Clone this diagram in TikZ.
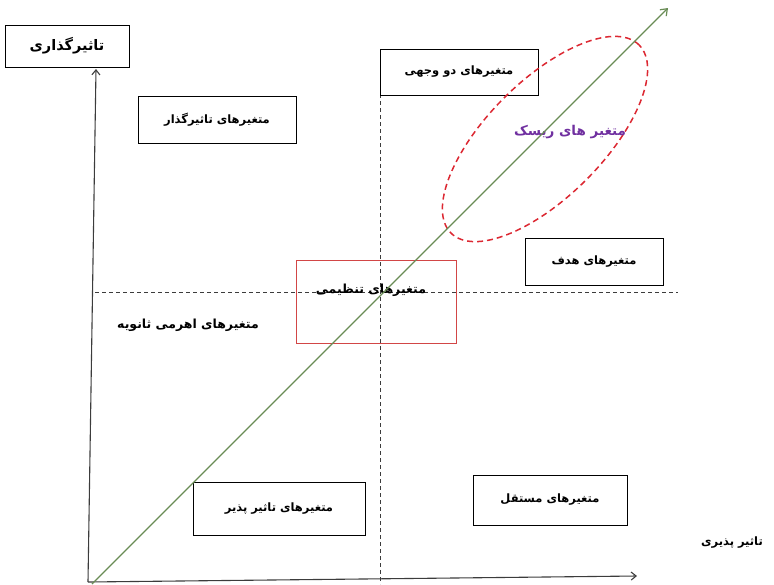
\documentclass[tikz,border=0pt]{standalone}
\usepackage{fontspec}
\newfontfamily\arabicfont[Script=Arabic]{DejaVu Sans}
\TeXXeTstate=1
\usetikzlibrary{arrows.meta,positioning,shapes,calc}
\definecolor{axisgray}{RGB}{60,60,60}
\definecolor{diaggreen}{RGB}{105,140,85}
\definecolor{riskred}{RGB}{220,40,50}
\definecolor{riskpurple}{RGB}{112,48,160}
\definecolor{boxred}{RGB}{210,70,70}
\newcommand{\fa}[1]{{\arabicfont\bfseries\beginR #1\endR}}

\begin{document}
\begin{tikzpicture}[x=1pt, y=-1pt,
        box/.style={rectangle, draw=black, line width=1pt, inner sep=0pt, font=\fontsize{11.5}{13}\selectfont},
        plain/.style={inner sep=0pt, font=\fontsize{11.5}{13}\selectfont},
        axis/.style={-{Straight Barb[length=5pt,width=8pt]}, line width=1.1pt, axisgray},
        guide/.style={dash pattern=on 4pt off 3pt, line width=1pt, axisgray},
        diag/.style={-{Straight Barb[length=6pt,width=9pt]}, line width=1.2pt, diaggreen},
        riskzone/.style={ellipse, draw=riskred, dash pattern=on 6pt off 4pt, line width=1.5pt, minimum width=266pt, minimum height=116pt}
    ]
    \useasboundingbox (0,0) rectangle (774,584);

    % axes and guides
    \coordinate (origin) at (88,582);
    \coordinate (ytop) at (96,69);
    \coordinate (xend) at (637,576);
    \coordinate (dstart) at (92,584);
    \coordinate (dend) at (668,8);
    \coordinate (vtop) at (380,52);
    \coordinate (vbot) at (380,584);
    \coordinate (hleft) at (95,292);
    \coordinate (hright) at (678,292);

    \draw[guide] (vtop) -- (vbot);
    \draw[guide] (hleft) -- (hright);

    % quadrant boxes
    \node[box, minimum width=124pt, minimum height=42pt, font=\fontsize{14.5}{16}\selectfont] (inflbox) at (67,46) {\fa{تاثیرگذاری}};
    \node[box, minimum width=158pt, minimum height=46pt, fill=white] (dualbox) at (459,72) {\fa{متغیرهای دو وجهی}};
    \node[box, minimum width=158pt, minimum height=47pt] (drivebox) at (217,119.5) {\fa{متغیرهای تاثیرگذار}};
    \node[box, minimum width=138pt, minimum height=47pt] (targetbox) at (594,261.5) {\fa{متغیرهای هدف}};
    \node[box, draw=boxred, minimum width=160pt, minimum height=83pt] (regbox) at (376,301.5) {};
    \node[plain, font=\fontsize{12.5}{14}\selectfont] (regtext) at (371,290) {\fa{متغیرهای تنظیمی}};
    \node[plain, font=\fontsize{12.5}{14}\selectfont] (levertext) at (188,325) {\fa{متغیرهای اهرمی ثانویه}};
    \node[box, minimum width=172pt, minimum height=53pt] (depbox) at (279,508.5) {\fa{متغیرهای تاثیر پذیر}};
    \node[box, minimum width=154pt, minimum height=50pt] (indbox) at (550,500) {\fa{متغیرهای مستقل}};
    \node[plain] (affectlabel) at (732,543) {\fa{تاثیر پذیری}};

    % risk zone
    \node[riskzone, rotate=45] (risk) at (545,139) {};
    \node[plain, text=riskpurple, font=\fontsize{13.5}{15}\selectfont] (risktext) at (570,132) {\fa{متغیر های ریسک}};

    \draw[axis] (origin) -- (ytop);
    \draw[axis] (origin) -- (xend);
    \draw[diag] (dstart) -- (dend);
\end{tikzpicture}
\end{document}
